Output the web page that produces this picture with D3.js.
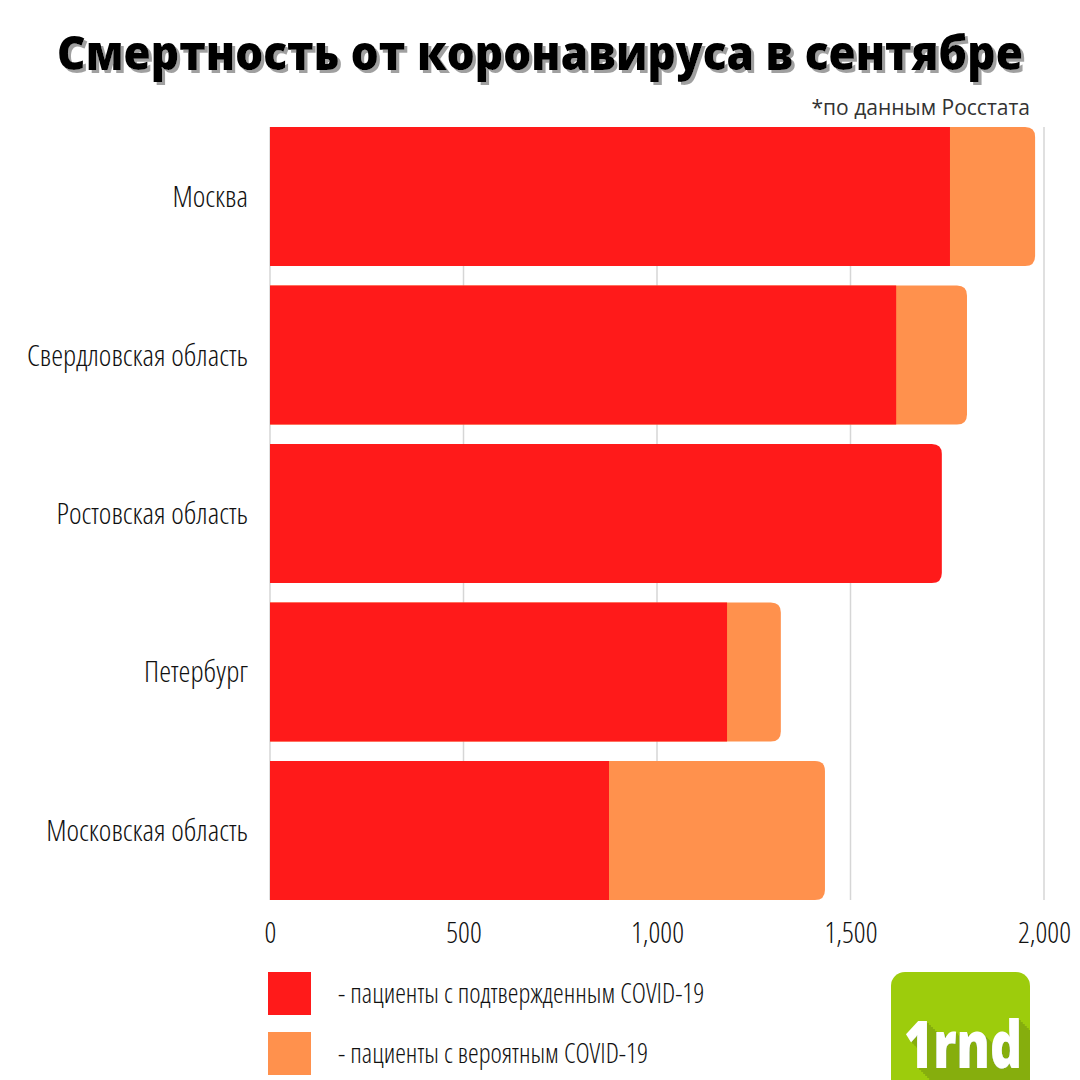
<!DOCTYPE html>
<html lang="ru">
<head>
<meta charset="utf-8">
<script src="https://d3js.org/d3.v7.min.js"></script>
<style>
    body { margin: 0; background: #fff; }
    svg text { font-family: "Open Sans", "Liberation Sans Narrow", sans-serif; }
    .cond { font-stretch: 75%; font-weight: 300; fill: #111; }
</style>
</head>
<body>
<script>
    // data
    var regions = ["Москва", "Свердловская область", "Ростовская область", "Петербург", "Московская область"];
    var confirmed = [1757, 1618, 1736, 1181, 876];
    var probable = [220, 183, 0, 139, 558];
    var seriesNames = ["- пациенты с подтвержденным COVID-19", "- пациенты с вероятным COVID-19"];
    var seriesColors = ["#ff1a1a", "#ff914d"];
    var xTicks = [0, 500, 1000, 1500, 2000];

    var W = 1080, H = 1080;
    var margin = {top: 127, right: 36, bottom: 180, left: 270};

    var svg = d3.select("body").append("svg")
        .attr("width", W)
        .attr("height", H);

    var defs = svg.append("defs");

    // title shadow filter
    var tf = defs.append("filter").attr("id", "tshadow")
        .attr("x", "-5%").attr("y", "-20%").attr("width", "110%").attr("height", "150%");
    tf.append("feOffset").attr("in", "SourceAlpha").attr("dx", 3).attr("dy", 3).attr("result", "o");
    tf.append("feFlood").attr("flood-color", "#a0a0a0");
    tf.append("feComposite").attr("in2", "o").attr("operator", "in").attr("result", "s");
    var tm = tf.append("feMerge");
    tm.append("feMergeNode").attr("in", "s");
    tm.append("feMergeNode").attr("in", "SourceGraphic");

    svg.append("text")
        .attr("x", W / 2).attr("y", 70)
        .attr("text-anchor", "middle")
        .attr("textLength", 966)
        .attr("lengthAdjust", "spacingAndGlyphs")
        .attr("filter", "url(#tshadow)")
        .style("font-size", "47px").style("font-weight", 800)
        .style("fill", "#000")
        .text("Смертность от коронавируса в сентябре");

    svg.append("text")
        .attr("x", 1030).attr("y", 115)
        .attr("text-anchor", "end")
        .style("font-size", "21px").style("fill", "#333")
        .text("*по данным Росстата");

    var x = d3.scaleLinear()
        .domain([0, 2000])
        .range([margin.left, 1044]);

    var y = d3.scaleBand()
        .domain(regions)
        .range([margin.top, H - margin.bottom])
        .paddingInner(0.123)
        .paddingOuter(0);

    // gridlines
    svg.append("g")
        .selectAll("line")
        .data(xTicks)
        .enter().append("line")
        .attr("x1", d => x(d)).attr("x2", d => x(d))
        .attr("y1", margin.top).attr("y2", H - margin.bottom)
        .attr("stroke", "#d6d6d6")
        .attr("stroke-width", 1.5);

    var rows = regions.map(function(r, i) {
        return {name: r, c: confirmed[i], p: probable[i]};
    });

    // rounded right end
    var rad = 10;
    function roundedRight(x0, x1, y0, h) {
        return "M" + x0 + "," + y0 +
            "H" + (x1 - rad) +
            "Q" + x1 + "," + y0 + " " + x1 + "," + (y0 + rad) +
            "V" + (y0 + h - rad) +
            "Q" + x1 + "," + (y0 + h) + " " + (x1 - rad) + "," + (y0 + h) +
            "H" + x0 + "Z";
    }

    var bars = svg.append("g");
    bars.selectAll("path.total")
        .data(rows)
        .enter().append("path")
        .attr("class", "total")
        .attr("d", d => roundedRight(x(0), x(d.c + d.p), y(d.name), y.bandwidth()))
        .attr("fill", d => d.p > 0 ? seriesColors[1] : seriesColors[0]);

    bars.selectAll("rect.conf")
        .data(rows.filter(d => d.p > 0))
        .enter().append("rect")
        .attr("class", "conf")
        .attr("x", x(0))
        .attr("y", d => y(d.name))
        .attr("width", d => x(d.c) - x(0))
        .attr("height", y.bandwidth())
        .attr("fill", seriesColors[0]);

    // category labels
    svg.append("g")
        .selectAll("text")
        .data(regions)
        .enter().append("text")
        .attr("class", "cond")
        .attr("x", 248)
        .attr("y", d => y(d) + y.bandwidth() / 2)
        .attr("dy", "0.35em")
        .attr("text-anchor", "end")
        .style("font-size", "30px")
        .text(d => d);

    // x axis labels
    var xAxis = svg.append("g")
        .attr("transform", "translate(0," + (H - margin.bottom) + ")")
        .call(d3.axisBottom(x).tickValues(xTicks).tickFormat(d3.format(",")).tickSize(0).tickPadding(22));
    xAxis.select(".domain").remove();
    xAxis.selectAll("text")
        .attr("class", "cond")
        .style("font-size", "29px")
        .attr("fill", "#111");

    // legend
    var legend = svg.append("g");
    seriesNames.forEach(function(s, i) {
        legend.append("rect")
            .attr("x", 268).attr("y", 972 + i * 60)
            .attr("width", 43).attr("height", 43)
            .attr("fill", seriesColors[i]);
        legend.append("text")
            .attr("class", "cond")
            .attr("x", 338).attr("y", 994 + i * 60)
            .attr("dy", "0.35em")
            .style("font-size", "27px")
            .text(s);
    });

    // logo with long shadow, shadow limited to the tile by the filter region
    var lf = defs.append("filter").attr("id", "lshadow")
        .attr("filterUnits", "userSpaceOnUse")
        .attr("x", 891).attr("y", 972).attr("width", 139).attr("height", 108);
    var offs = [];
    for (var k = 2; k <= 40; k += 2) {
        lf.append("feOffset").attr("in", "SourceAlpha").attr("dx", k).attr("dy", k).attr("result", "o" + k);
        offs.push("o" + k);
    }
    var lmerge = lf.append("feMerge").attr("result", "allo");
    offs.forEach(o => lmerge.append("feMergeNode").attr("in", o));
    lf.append("feFlood").attr("flood-color", "#86ae0a");
    lf.append("feComposite").attr("in2", "allo").attr("operator", "in").attr("result", "sh");
    var lm2 = lf.append("feMerge");
    lm2.append("feMergeNode").attr("in", "sh");
    lm2.append("feMergeNode").attr("in", "SourceGraphic");

    var logo = svg.append("g");
    logo.append("rect")
        .attr("x", 891).attr("y", 972)
        .attr("width", 139).attr("height", 140)
        .attr("rx", 14)
        .attr("fill", "#9dcc0c");
    logo.append("text")
        .attr("x", 904).attr("y", 1068)
        .attr("textLength", 118)
        .attr("lengthAdjust", "spacingAndGlyphs")
        .attr("filter", "url(#lshadow)")
        .style("font-size", "66px").style("font-weight", 800)
        .style("fill", "#fff")
        .text("1rnd");
</script>
</body>
</html>
